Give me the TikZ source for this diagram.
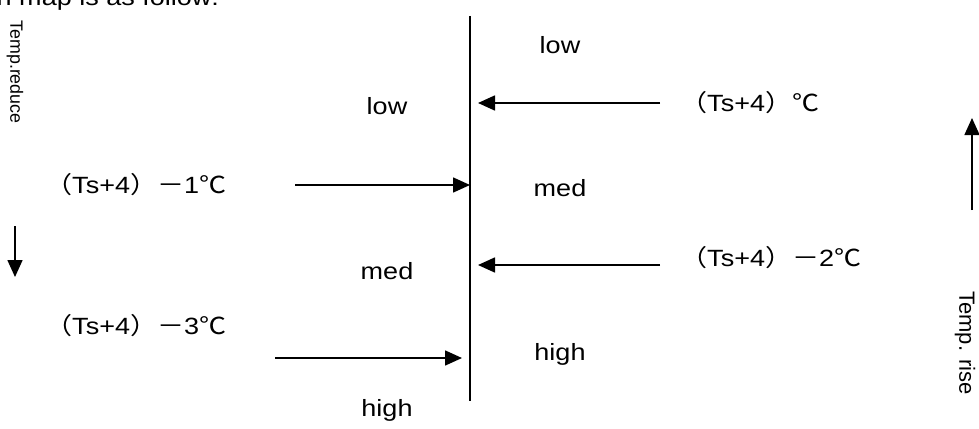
\documentclass[tikz,border=0pt]{standalone}
\usepackage{fontspec}
\setmainfont{Liberation Sans}[FakeStretch=1.15]
\newfontfamily\plainsans{Liberation Sans}
\newfontfamily\cjk{Noto Sans CJK SC}[FakeStretch=1.15]
\usetikzlibrary{arrows.meta}
\tikzset{
  lbl/.style={font=\fontsize{23.5}{27}\selectfont, inner sep=0pt},
  vlbl/.style={inner sep=0pt, rotate=-90},
  ax/.style={line width=1.6pt},
  arr/.style={line width=1.6pt, -{Triangle[length=17pt,width=15pt]}},
}
\newcommand{\lp}{{\cjk （}}
\newcommand{\rp}{{\cjk ）}}
\newcommand{\mn}{{\cjk －}}
\newcommand{\dc}{{\cjk ℃}}
\begin{document}
\begin{tikzpicture}[x=1pt,y=-1pt]
\useasboundingbox (0,0) rectangle (979,428);
\begin{scope}
\clip (0,0) rectangle (979,428);
\node[lbl, anchor=base west] (title) at (-32,6) {tion map is as follow:};
\end{scope}
% vertical axis
\coordinate (vt) at (470,16);
\coordinate (vb) at (470,401);
\draw[ax] (vt) -- (vb);
% arrows
\coordinate (a1s) at (660,103); \coordinate (a1e) at (478,103);
\coordinate (a2s) at (295,185); \coordinate (a2e) at (470,185);
\coordinate (a3s) at (660,265); \coordinate (a3e) at (478,265);
\coordinate (a4s) at (275,358); \coordinate (a4e) at (462,358);
\draw[arr] (a1s) -- (a1e);
\draw[arr] (a2s) -- (a2e);
\draw[arr] (a3s) -- (a3e);
\draw[arr] (a4s) -- (a4e);
% threshold labels
\node[lbl, anchor=west] (t1) at (680,103) {\lp Ts+4\rp\dc};
\node[lbl, anchor=west] (t2) at (45,185) {\lp Ts+4\rp\mn 1\dc};
\node[lbl, anchor=west] (t3) at (680,258) {\lp Ts+4\rp\mn 2\dc};
\node[lbl, anchor=west] (t4) at (45,326) {\lp Ts+4\rp\mn 3\dc};
% zone labels
\node[lbl] (r1) at (560,45) {low};
\node[lbl] (l1) at (387,106) {low};
\node[lbl] (r2) at (560,188) {med};
\node[lbl] (l2) at (387,271) {med};
\node[lbl] (r3) at (560,354) {high};
\node[lbl] (l3) at (387,410) {high};
% side indicators
\node[vlbl, font=\plainsans\fontsize{17.8}{20}\selectfont] (red) at (15,72) {Temp.reduce};
\coordinate (d1) at (15,226); \coordinate (d2) at (15,277);
\draw[arr] (d1) -- (d2);
\node[vlbl, font=\plainsans\fontsize{22}{25}\selectfont] (rise) at (965,343) {Temp. rise};
\coordinate (u1) at (972,210); \coordinate (u2) at (972,118);
\draw[arr] (u1) -- (u2);
\end{tikzpicture}
\end{document}
